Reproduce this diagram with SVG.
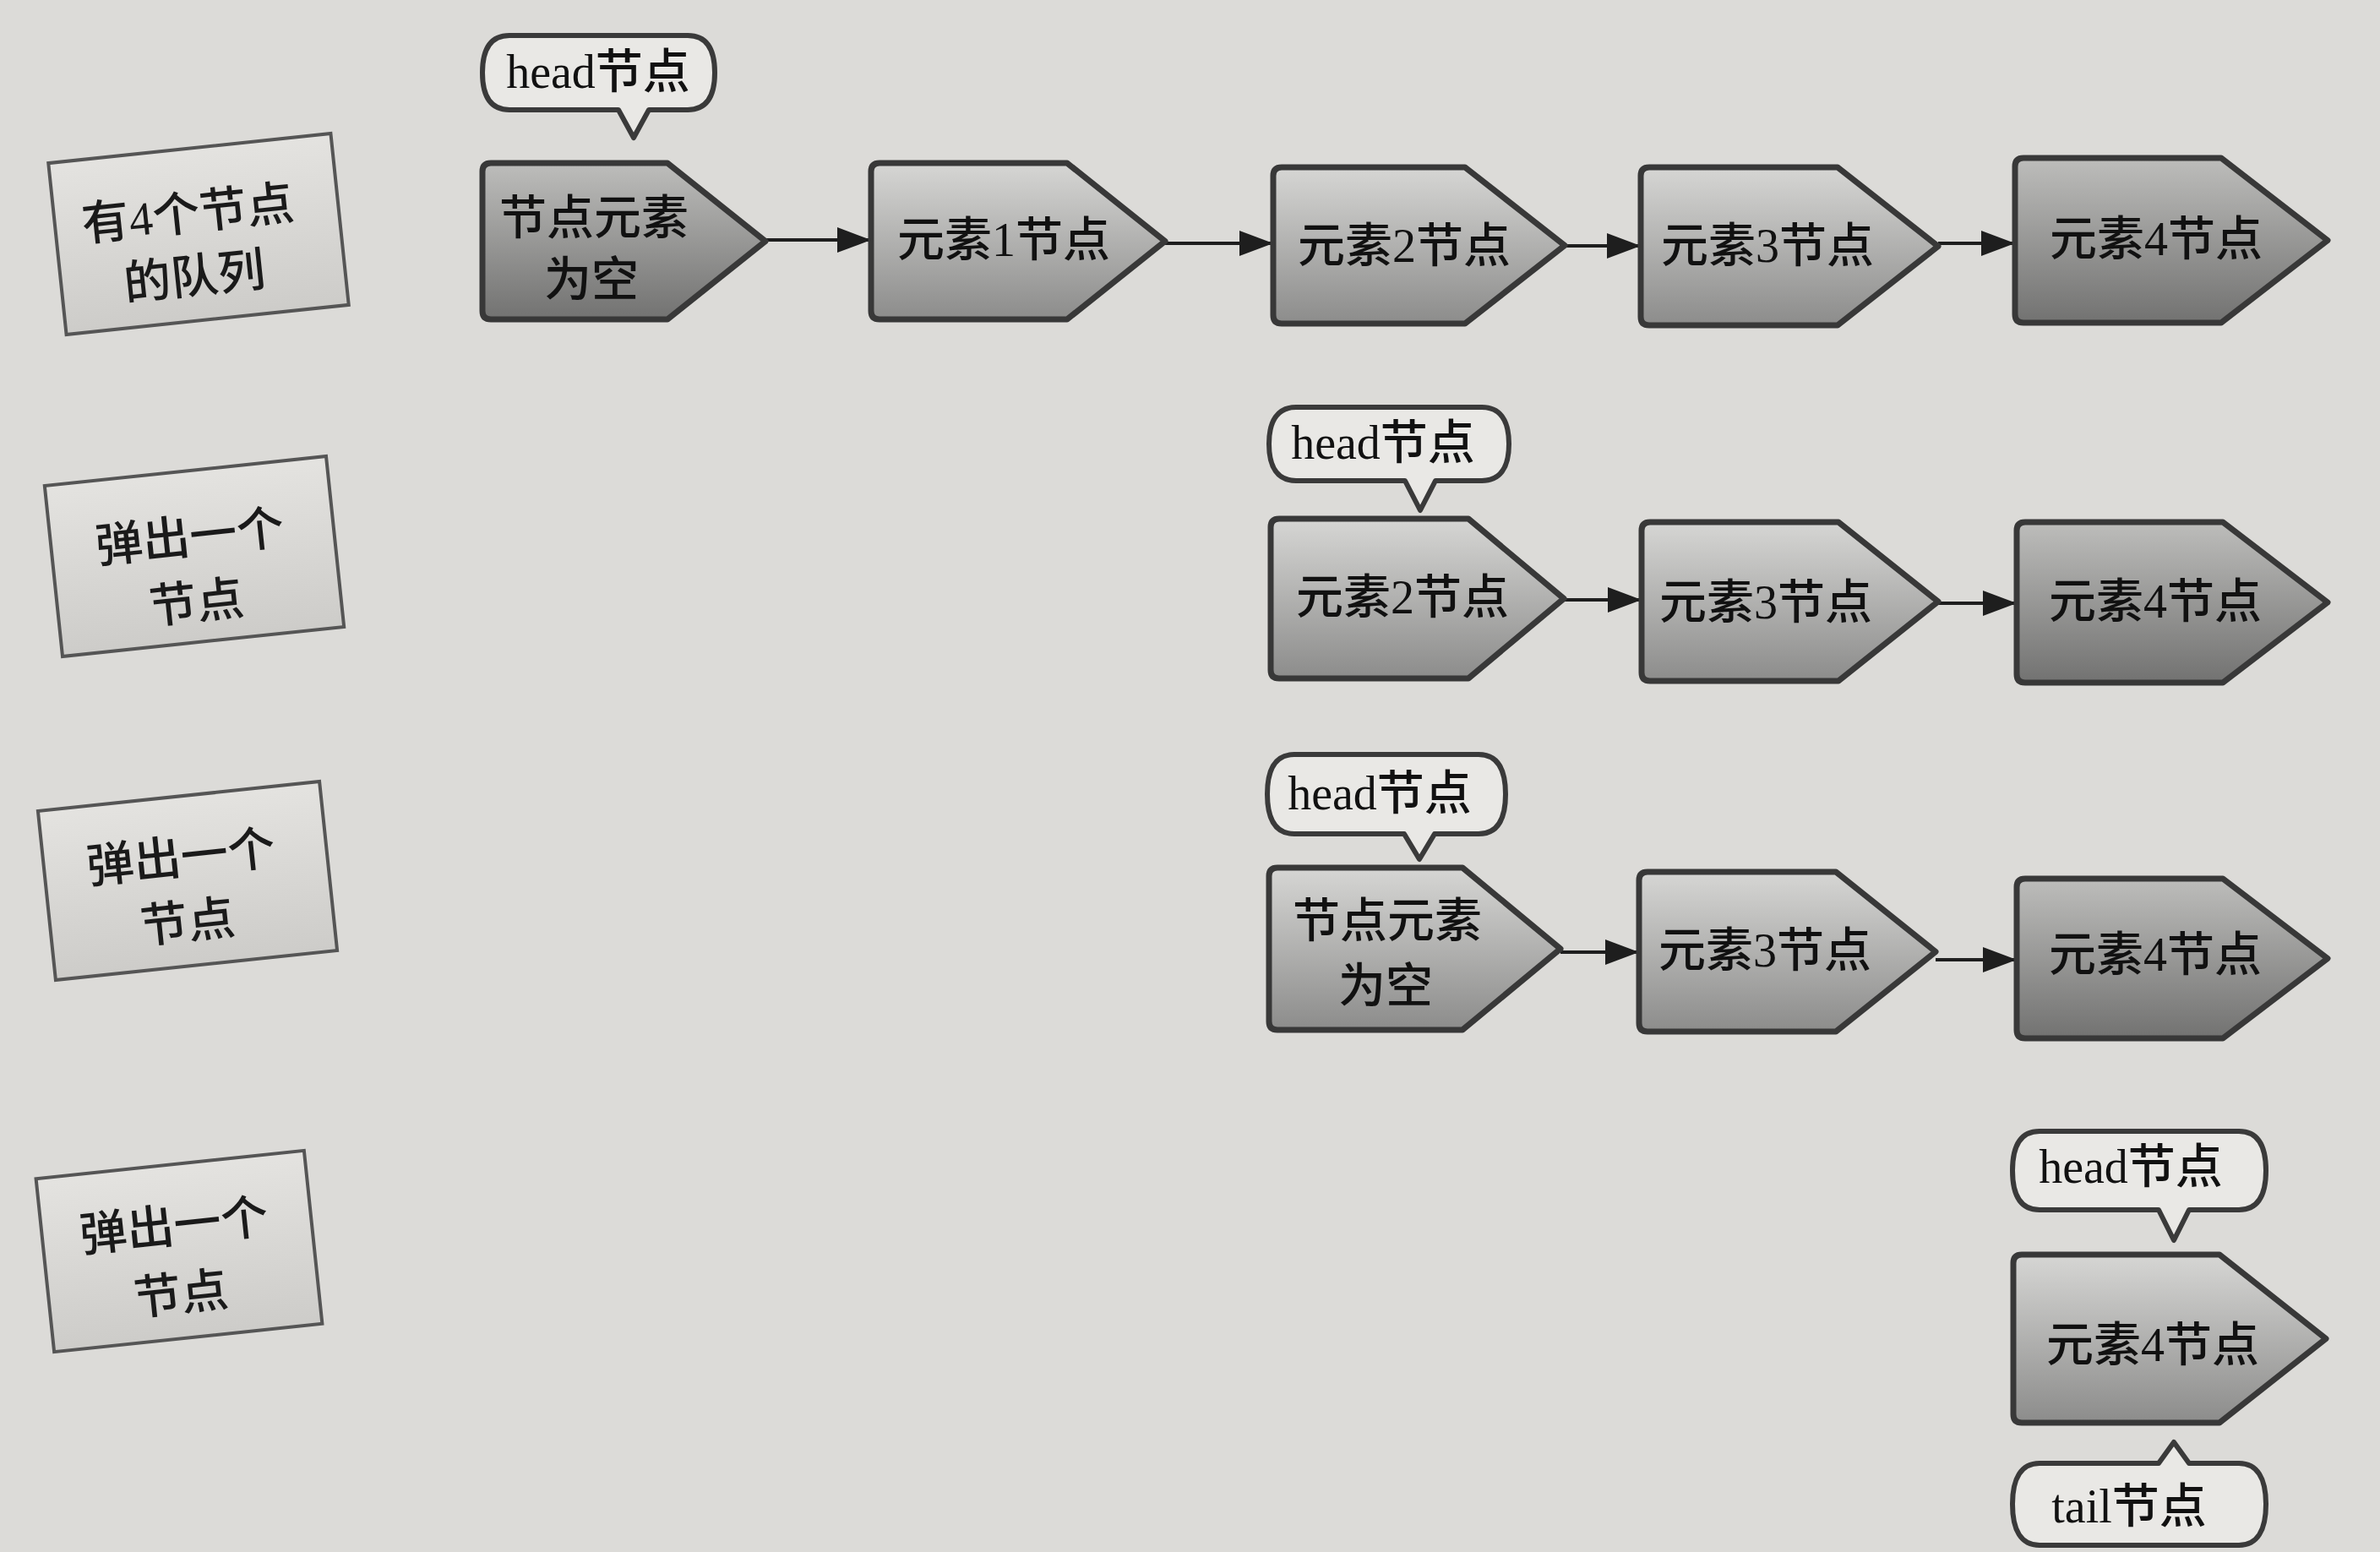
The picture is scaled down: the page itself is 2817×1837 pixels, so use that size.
<svg xmlns="http://www.w3.org/2000/svg" width="2817" height="1837" viewBox="0 0 2817 1837">
<style>
.bg{fill:#dcdbd8}
.node{stroke:#383838;stroke-width:7;stroke-linejoin:round;fill:url(#gN)}
.node.dark{fill:url(#gD)}
.lbl{fill:url(#gL);stroke:#555;stroke-width:4}
.call{fill:#e9e8e5;stroke:#3a3a3a;stroke-width:6;stroke-linejoin:round}
.t{font-family:"Liberation Serif","Noto Sans CJK SC",serif;font-size:56px;font-weight:500;fill:#111;text-anchor:middle}
.lt{font-family:"Liberation Serif","Noto Sans CJK SC",serif;font-size:56px;font-weight:500;fill:#1a1a1a;text-anchor:middle}
.edge{stroke:#1e1e1e;stroke-width:4;fill:none;marker-end:url(#ah)}
</style>
<defs>
<linearGradient id="gN" x1="0" y1="0" x2="0" y2="1">
<stop offset="0" stop-color="#d6d6d4"/><stop offset="1" stop-color="#8c8c8b"/>
</linearGradient>
<linearGradient id="gD" x1="0" y1="0" x2="0" y2="1">
<stop offset="0" stop-color="#bdbdbb"/><stop offset="1" stop-color="#727271"/>
</linearGradient>
<linearGradient id="gL" x1="0" y1="0" x2="0" y2="1">
<stop offset="0" stop-color="#e4e3e0"/><stop offset="1" stop-color="#cdccc9"/>
</linearGradient>
<marker id="ah" markerUnits="userSpaceOnUse" markerWidth="40" markerHeight="30" refX="38" refY="15" orient="auto">
<path d="M0,0 L40,15 L0,30 Z" fill="#1e1e1e"/>
</marker>
</defs>
<rect class="bg" x="0" y="0" width="2817" height="1837"/>

<g id="label-1" transform="rotate(-6 235 277)">
<rect class="lbl" x="67" y="175" width="336" height="204"/>
<text class="lt" x="225" y="271">有4个节点</text>
<text class="lt" x="225" y="346">的队列</text>
</g>
<g id="label-2" transform="rotate(-6 230 658.5)">
<rect class="lbl" x="62.5" y="557" width="335" height="203"/>
<text class="lt" x="227" y="654.5">弹出一个</text>
<text class="lt" x="227" y="732.5">节点</text>
</g>
<g id="label-3" transform="rotate(-6 222 1042.5)">
<rect class="lbl" x="54.5" y="942" width="335" height="201"/>
<text class="lt" x="217" y="1033.5">弹出一个</text>
<text class="lt" x="217" y="1110.5">节点</text>
</g>
<g id="label-4" transform="rotate(-6 212 1481)">
<rect class="lbl" x="52.5" y="1378" width="319" height="206"/>
<text class="lt" x="209" y="1470">弹出一个</text>
<text class="lt" x="209" y="1551">节点</text>
</g>

<g id="connectors">
<path class="edge" d="M906,284 H1029"/>
<path class="edge" d="M1379,288 H1505"/>
<path class="edge" d="M1852,291 H1940"/>
<path class="edge" d="M2294,288 H2383"/>
<path class="edge" d="M1851,710 H1941"/>
<path class="edge" d="M2294,714 H2385"/>
<path class="edge" d="M1847,1127 H1938"/>
<path class="edge" d="M2291,1136 H2385"/>
</g>

<g id="head-1">
<path class="call" d="M603,42 H814 C836,42 846,58 846,86 C846,114 836,130 814,130 H768 L750,163 L732,130 H603 C581,130 571,114 571,86 C571,58 581,42 603,42 Z"/>
<text class="t" x="708" y="104">head节点</text>
</g>
<g id="r1-empty">
<path class="node dark" d="M581,193 H790 L906,285.5 L790,378 H581 Q571,378 571,368 V203 Q571,193 581,193 Z"/>
<text class="t" x="703" y="277">节点元素</text>
<text class="t" x="700" y="350">为空</text>
</g>
<g id="r1-e1">
<path class="node" d="M1041,193 H1263 L1379,285.5 L1263,378 H1041 Q1031,378 1031,368 V203 Q1031,193 1041,193 Z"/>
<text class="t" x="1188" y="303">元素1节点</text>
</g>
<g id="r1-e2">
<path class="node" d="M1517,198 H1734 L1852,290.5 L1734,383 H1517 Q1507,383 1507,373 V208 Q1507,198 1517,198 Z"/>
<text class="t" x="1662" y="310">元素2节点</text>
</g>
<g id="r1-e3">
<path class="node" d="M1952,198 H2175 L2294,291.5 L2175,385 H1952 Q1942,385 1942,375 V208 Q1942,198 1952,198 Z"/>
<text class="t" x="2092" y="310">元素3节点</text>
</g>
<g id="r1-e4">
<path class="node dark" d="M2395,187 H2629 L2755,284.5 L2629,382 H2395 Q2385,382 2385,372 V197 Q2385,187 2395,187 Z"/>
<text class="t" x="2552" y="302">元素4节点</text>
</g>

<g id="head-2">
<path class="call" d="M1534,482 H1754 C1776,482 1786,498 1786,525.5 C1786,553 1776,569 1754,569 H1699 L1681,604 L1663,569 H1534 C1512,569 1502,553 1502,525.5 C1502,498 1512,482 1534,482 Z"/>
<text class="t" x="1637" y="543">head节点</text>
</g>
<g id="r2-e2">
<path class="node" d="M1514,614 H1738 L1851,708.5 L1738,803 H1514 Q1504,803 1504,793 V624 Q1504,614 1514,614 Z"/>
<text class="t" x="1660" y="726">元素2节点</text>
</g>
<g id="r2-e3">
<path class="node" d="M1953,618 H2176 L2294,712 L2176,806 H1953 Q1943,806 1943,796 V628 Q1943,618 1953,618 Z"/>
<text class="t" x="2090" y="732">元素3节点</text>
</g>
<g id="r2-e4">
<path class="node dark" d="M2397,618 H2631 L2755,713 L2631,808 H2397 Q2387,808 2387,798 V628 Q2387,618 2397,618 Z"/>
<text class="t" x="2551" y="731">元素4节点</text>
</g>

<g id="head-3">
<path class="call" d="M1532,893 H1750 C1772,893 1782,910 1782,940 C1782,970 1772,987 1750,987 H1698 L1680,1017 L1662,987 H1532 C1510,987 1500,970 1500,940 C1500,910 1510,893 1532,893 Z"/>
<text class="t" x="1633" y="958">head节点</text>
</g>
<g id="r3-empty">
<path class="node" d="M1512,1027 H1731 L1847,1123 L1731,1219 H1512 Q1502,1219 1502,1209 V1037 Q1502,1027 1512,1027 Z"/>
<text class="t" x="1642" y="1109">节点元素</text>
<text class="t" x="1640" y="1186">为空</text>
</g>
<g id="r3-e3">
<path class="node" d="M1950,1032 H2173 L2291,1126.5 L2173,1221 H1950 Q1940,1221 1940,1211 V1042 Q1940,1032 1950,1032 Z"/>
<text class="t" x="2089" y="1144">元素3节点</text>
</g>
<g id="r3-e4">
<path class="node dark" d="M2397,1040 H2631 L2755,1134.5 L2631,1229 H2397 Q2387,1229 2387,1219 V1050 Q2387,1040 2397,1040 Z"/>
<text class="t" x="2551" y="1149">元素4节点</text>
</g>

<g id="head-4">
<path class="call" d="M2414,1339 H2650 C2672,1339 2682,1356 2682,1385.5 C2682,1415 2672,1432 2650,1432 H2591 L2573,1468 L2555,1432 H2414 C2392,1432 2382,1415 2382,1385.5 C2382,1356 2392,1339 2414,1339 Z"/>
<text class="t" x="2522" y="1400">head节点</text>
</g>
<g id="r4-e4">
<path class="node" d="M2393,1485 H2627 L2753,1584.5 L2627,1684 H2393 Q2383,1684 2383,1674 V1495 Q2383,1485 2393,1485 Z"/>
<text class="t" x="2548" y="1611">元素4节点</text>
</g>
<g id="tail-4">
<path class="call" d="M2414,1732 H2555 L2573,1707 L2591,1732 H2650 C2672,1732 2682,1750 2682,1780.5 C2682,1811 2672,1829 2650,1829 H2414 C2392,1829 2382,1811 2382,1780.5 C2382,1750 2392,1732 2414,1732 Z"/>
<text class="t" x="2520" y="1802">tail节点</text>
</g>
</svg>
